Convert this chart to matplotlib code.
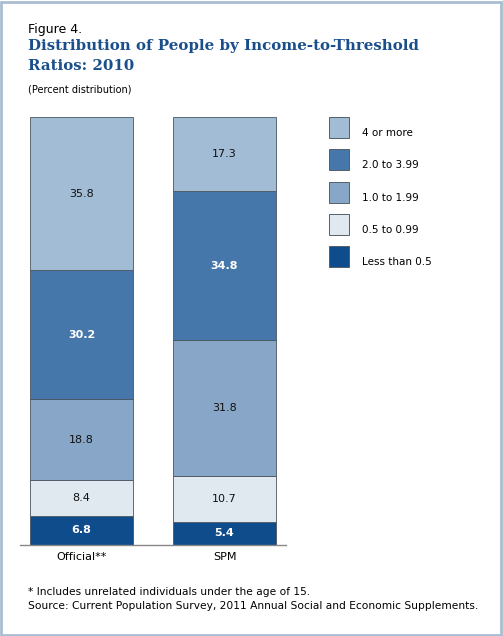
import matplotlib
matplotlib.use("Agg")
import matplotlib.pyplot as plt
from matplotlib.patches import Rectangle

categories = ["Official**", "SPM"]
series_names = ["Less than 0.5", "0.5 to 0.99", "1.0 to 1.99", "2.0 to 3.99", "4 or more"]
values = {
    "Less than 0.5": [6.8, 5.4],
    "0.5 to 0.99": [8.4, 10.7],
    "1.0 to 1.99": [18.8, 31.8],
    "2.0 to 3.99": [30.2, 34.8],
    "4 or more": [35.8, 17.3],
}
colors = {
    "Less than 0.5": "#0f4c8c",
    "0.5 to 0.99": "#e0e8f0",
    "1.0 to 1.99": "#88a7c8",
    "2.0 to 3.99": "#4677aa",
    "4 or more": "#a3bcd5",
}
white_labels = {"Less than 0.5", "2.0 to 3.99"}

W, H = 503, 636
fig = plt.figure(figsize=(W / 100, H / 100), dpi=100)
fig.patch.set_facecolor("white")

# frame border
fig.add_artist(Rectangle((1 / W, 1 / H), 1 - 3 / W, 1 - 3 / H, transform=fig.transFigure,
                         fill=False, edgecolor="#a9bdd2", linewidth=2))

ax = fig.add_axes([20 / W, 1 - 545 / H, 266 / W, 428 / H])
ax.set_xlim(-0.43, 1.43)
ax.set_ylim(0, 100)
bottoms = [0.0, 0.0]
for name in series_names:
    vals = values[name]
    ax.bar(range(len(categories)), vals, bottom=bottoms, width=0.72,
           color=colors[name], edgecolor="#4a5560", linewidth=0.6, zorder=2)
    for i, v in enumerate(vals):
        white = name in white_labels
        ax.text(i, bottoms[i] + v / 2, f"{v:.1f}", ha="center", va="center",
                fontsize=8, color="white" if white else "#111111",
                fontweight="bold" if white else "normal", zorder=3)
    bottoms = [b + v for b, v in zip(bottoms, vals)]

for s in ["top", "right", "left"]:
    ax.spines[s].set_visible(False)
ax.spines["bottom"].set_color("#888888")
ax.spines["bottom"].set_linewidth(1)
ax.set_yticks([])
ax.set_xticks(range(len(categories)))
ax.set_xticklabels(categories, fontsize=8)
ax.tick_params(axis="x", length=0, pad=5)

# legend
for k, name in enumerate(series_names[::-1]):
    y = 117 + k * 32.3
    fig.add_artist(Rectangle((329 / W, 1 - (y + 21) / H), 20 / W, 21 / H, transform=fig.transFigure,
                             facecolor=colors[name], edgecolor="#555f69", linewidth=0.7))
    fig.text(362 / W, 1 - (y + 16) / H, name, fontsize=7.5, va="center", ha="left")

fig.text(28 / W, 1 - 29 / H, "Figure 4.", fontsize=9, va="center", ha="left")
fig.text(28 / W, 1 - 46 / H, "Distribution of People by Income-to-Threshold", fontsize=10.8,
         family="DejaVu Serif", fontweight="bold", color="#1a4f8b", va="center", ha="left")
fig.text(28 / W, 1 - 66 / H, "Ratios: 2010", fontsize=10.8,
         family="DejaVu Serif", fontweight="bold", color="#1a4f8b", va="center", ha="left")
fig.text(28 / W, 1 - 90 / H, "(Percent distribution)", fontsize=7, va="center", ha="left")

fig.text(28 / W, 1 - 592 / H, "* Includes unrelated individuals under the age of 15.",
         fontsize=7.7, va="center", ha="left")
fig.text(28 / W, 1 - 606 / H,
         "Source: Current Population Survey, 2011 Annual Social and Economic Supplements.",
         fontsize=7.7, va="center", ha="left")

fig.savefig("out.png", dpi=100)
